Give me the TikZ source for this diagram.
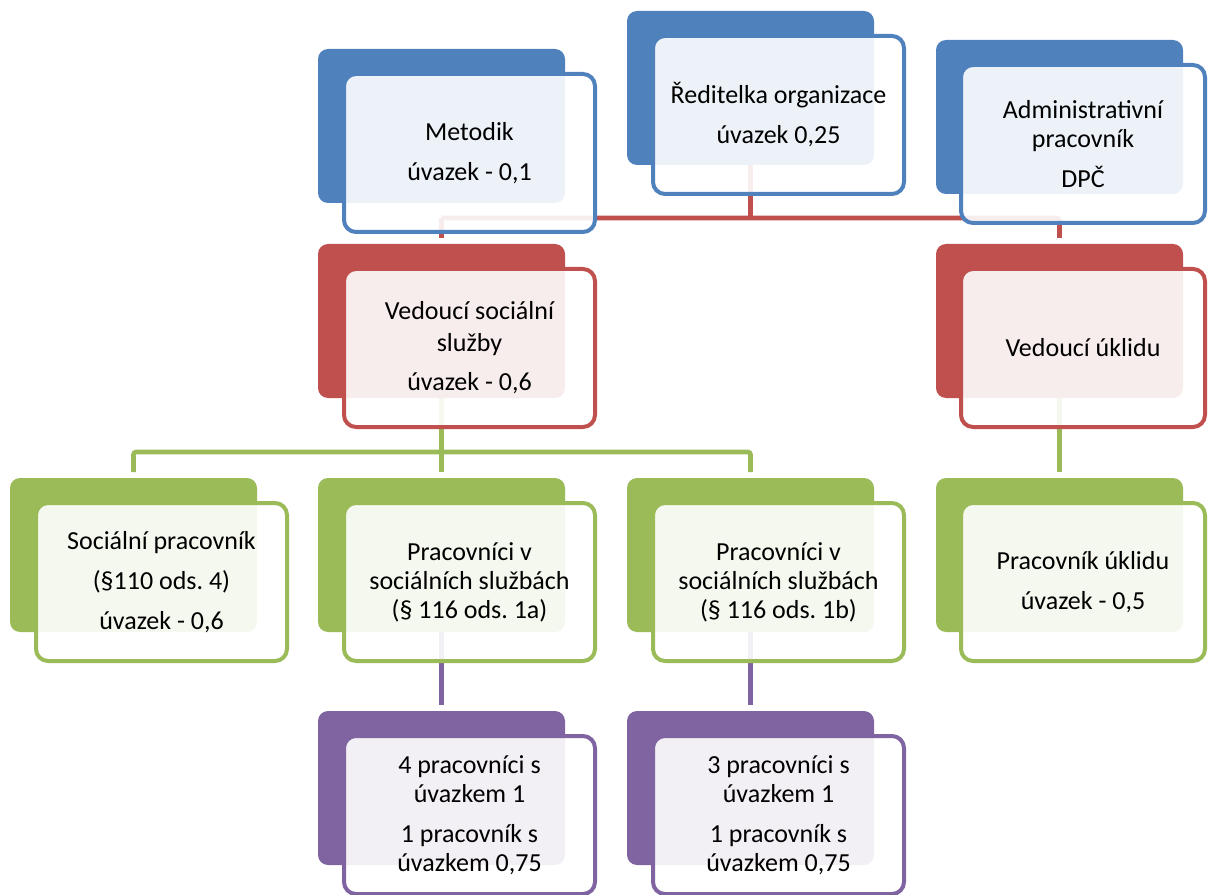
\documentclass[tikz,border=0pt]{standalone}
\usepackage{fontspec}
\setmainfont{Carlito}
\usepackage{tikz}
\usetikzlibrary{backgrounds}
\definecolor{orgBlue}{HTML}{4F81BD}
\definecolor{orgRed}{HTML}{C0504D}
\definecolor{orgGreen}{HTML}{9BBB59}
\definecolor{orgPurple}{HTML}{8064A2}
\frenchspacing

\begin{document}
\begin{tikzpicture}[x=0.75pt,y=-0.75pt,
  backbox/.style={fill=#1,rounded corners=7.5pt,inner sep=0pt,outer sep=0pt,
                  minimum width=185.25pt,minimum height=115.5pt,anchor=north west},
  frontbox/.style={draw=#1,line width=3pt,fill=white,fill opacity=0.9,text opacity=1,
                   rounded corners=9pt,inner sep=0pt,outer sep=0pt,
                   minimum width=188.25pt,minimum height=118.5pt,anchor=north west,
                   align=center,font=\fontsize{19.5}{21.75}\selectfont},
  narrow/.style={minimum width=183pt},
  link/.style={draw=#1,line width=3.5pt,rounded corners=2pt},
  gap/.style={shorten >=4.5pt}]
  \useasboundingbox (0,0) rectangle (1208,895);

  % top row
  \node[backbox=orgBlue] (met-b) at (318,49) {};
  \node[frontbox=orgBlue] (met) at (344,74) {Metodik\\[8.25pt]úvazek - 0,1};
  \node[backbox=orgBlue] (dir-b) at (627,11) {};
  \node[frontbox=orgBlue] (dir) at (653,36) {Ředitelka organizace\\[8.25pt]úvazek 0,25};
  \node[backbox=orgBlue] (adm-b) at (936,40) {};
  \node[frontbox=orgBlue,narrow] (adm) at (961,65) {Administrativní\\pracovník\\[8.25pt]DPČ};

  % leaders
  \node[backbox=orgRed] (vss-b) at (318,244) {};
  \node[frontbox=orgRed] (vss) at (344,269) {Vedoucí sociální\\[2.25pt]služby\\[7.5pt]úvazek - 0,6};
  \node[backbox=orgRed] (vu-b) at (936,244) {};
  \node[frontbox=orgRed,narrow] (vu) at (961,269) {Vedoucí úklidu};

  % staff
  \node[backbox=orgGreen] (sp-b) at (10,478) {};
  \node[frontbox=orgGreen] (sp) at (36,503) {Sociální pracovník\\[8.25pt](§110 ods. 4)\\[8.25pt]úvazek - 0,6};
  \node[backbox=orgGreen] (psa-b) at (318,478) {};
  \node[frontbox=orgGreen] (psa) at (344,503) {Pracovníci v\\sociálních službách\\(§ 116 ods. 1a)};
  \node[backbox=orgGreen] (psb-b) at (627,478) {};
  \node[frontbox=orgGreen] (psb) at (653,503) {Pracovníci v\\sociálních službách\\(§ 116 ods. 1b)};
  \node[backbox=orgGreen] (pu-b) at (936,478) {};
  \node[frontbox=orgGreen,narrow] (pu) at (961,503) {Pracovník úklidu\\[8.25pt]úvazek - 0,5};

  % counts
  \node[backbox=orgPurple] (na-b) at (318,711) {};
  \node[frontbox=orgPurple] (na) at (344,736) {4 pracovníci s\\úvazkem 1\\[8.25pt]1 pracovník s\\úvazkem 0,75};
  \node[backbox=orgPurple] (nb-b) at (627,711) {};
  \node[frontbox=orgPurple] (nb) at (653,736) {3 pracovníci s\\úvazkem 1\\[8.25pt]1 pracovník s\\úvazkem 0,75};

  \coordinate (redbar) at (0,218);
  \coordinate (greenbar) at (0,452);
  \begin{scope}[on background layer]
    \draw[link=orgRed] (dir-b.south) -- (dir-b.south |- redbar);
    \draw[link=orgRed,gap] (vss-b.north |- redbar) -- (vss-b.north);
    \draw[link=orgRed,gap] (vss-b.north |- redbar) -- (vu-b.north |- redbar) -- (vu-b.north);
    \draw[link=orgGreen] (vss-b.south) -- (vss-b.south |- greenbar);
    \draw[link=orgGreen,gap] (vss-b.south |- greenbar) -- (psa-b.north);
    \draw[link=orgGreen,gap] (psa-b.north |- greenbar) -- (sp-b.north |- greenbar) -- (sp-b.north);
    \draw[link=orgGreen,gap] (psa-b.north |- greenbar) -- (psb-b.north |- greenbar) -- (psb-b.north);
    \draw[link=orgGreen,gap] (vu-b.south) -- (pu-b.north);
    \draw[link=orgPurple,gap] (psa-b.south) -- (na-b.north);
    \draw[link=orgPurple,gap] (psb-b.south) -- (nb-b.north);
  \end{scope}
\end{tikzpicture}
\end{document}
